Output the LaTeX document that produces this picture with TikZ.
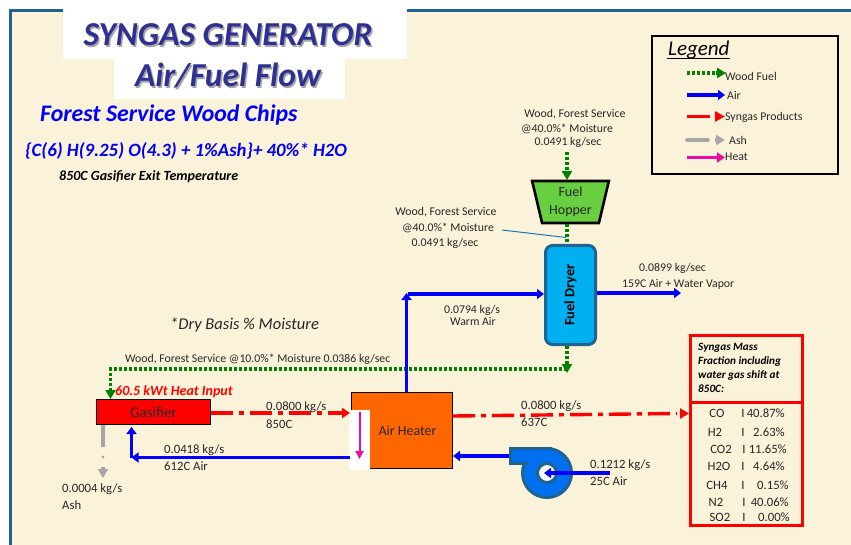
\documentclass[tikz,border=0pt]{standalone}
\usepackage{fontspec}
\setmainfont{Carlito}
\usetikzlibrary{arrows.meta, shapes.geometric}
\definecolor{paper}{HTML}{FBF3D9}
\definecolor{framecol}{HTML}{1F6391}
\definecolor{titlecol}{HTML}{2E3192}
\definecolor{woodcol}{HTML}{008000}
\definecolor{aircol}{HTML}{0000FF}
\definecolor{ashcol}{HTML}{A6A6A6}
\definecolor{heatcol}{HTML}{EC0CA0}
\definecolor{hoppercol}{HTML}{68D040}
\definecolor{dryercol}{HTML}{00B0F0}
\definecolor{heatercol}{HTML}{FF6600}
\definecolor{fancol}{HTML}{0070F0}
\definecolor{leadercol}{HTML}{1478BE}
\begin{document}
\begin{tikzpicture}[x = 1pt, y = -1pt]
\tikzstyle{label}=[inner sep = 0pt, anchor = west, font = \fontsize{11.8}{13}\selectfont, text = black!85]
\tikzstyle{bigger}=[label, font = \fontsize{12.7}{14}\selectfont]
\tikzstyle{centered}=[label, anchor = center, align = center]
\tikzstyle{title}=[inner sep = 0pt, font = \fontsize{33.5}{38}\bfseries\itshape\selectfont, text = titlecol]
\tikzstyle{titleshade}=[title, text = black!35]
\tikzstyle{bluetitle}=[inner sep = 0pt, anchor = west, text = aircol, font = \bfseries\itshape\selectfont]
\tikzstyle{unit}=[draw = black, line width = 1.5pt, inner sep = 0pt, font = \fontsize{14}{16}\selectfont, text = black!85]
\tikzstyle{woodflow}=[woodcol, line width = 3.2pt, dash pattern = on 3pt off 2pt]
\tikzstyle{woodtip}=[woodcol, line width = 3.2pt, -{Triangle[length = 9pt, width = 10pt]}]
\tikzstyle{airflow}=[aircol, line width = 3.4pt, -{Triangle[length = 7pt, width = 10pt]}]
\tikzstyle{gasflow}=[red, line width = 3.4pt, dash pattern = on 22pt off 6pt on 5pt off 6pt]
\tikzstyle{gastip}=[red, line width = 3.4pt, -{Triangle[length = 8pt, width = 10pt]}]
\tikzstyle{ashflow}=[ashcol, line width = 3.6pt]
\tikzstyle{ashtip}=[ashcol, line width = 3.6pt, -{Triangle[length = 9pt, width = 10pt]}]
\tikzstyle{heatflow}=[heatcol, line width = 3pt, -{Triangle[length = 8pt, width = 10pt]}]
\useasboundingbox (0, 0) rectangle (851, 545);
\fill[white] (0, 0) rectangle (851, 545);
\fill[paper] (10, 10) rectangle (851, 545);
\draw[framecol, line width = 3pt] (10.5, 545) -- (10.5, 10.5) -- (851, 10.5);
\fill[white] (63, 0) rectangle (407, 59);
\fill[white] (114, 59) rectangle (345, 99);
\node[titleshade] (shadeone) at (229.5, 36.5) {SYNGAS GENERATOR};
\node[title] (titleone) at (228, 35) {SYNGAS GENERATOR};
\node[titleshade] (shadetwo) at (229.5, 77.5) {Air/Fuel Flow};
\node[title] (titletwo) at (228, 76) {Air/Fuel Flow};
\node[bluetitle, font = \fontsize{23.8}{26}\bfseries\itshape\selectfont] (chips) at (40, 115) {Forest Service Wood Chips};
\node[bluetitle, font = \fontsize{18.8}{21}\bfseries\itshape\selectfont] (formula) at (25, 151) {\{C(6) H(9.25) O(4.3) + 1\%Ash\}+ 40\%* H2O};
\node[label, font = \fontsize{14}{16}\bfseries\itshape\selectfont, text = black] (exit) at (59, 177) {850C Gasifier Exit Temperature};
\node[label, font = \fontsize{16.5}{19}\itshape\selectfont] (drybasis) at (170, 325) {*Dry Basis \% Moisture};
% legend
\node[draw = black, line width = 1.2pt, minimum width = 186pt, minimum height = 138pt, inner sep = 0pt] (legend) at (745, 105) {};
\node[label, font = \fontsize{21}{24}\itshape\selectfont, text = black] (legendname) at (668, 50) {Legend};
\draw[black, line width = 1pt] (667, 59) -- (730, 59);
\coordinate (lwa) at (687, 73);
\coordinate (lwb) at (716, 73);
\coordinate (lwc) at (726, 73);
\coordinate (laa) at (687, 95);
\coordinate (lab) at (725, 95);
\coordinate (lsa) at (687, 116.5);
\coordinate (lsb) at (710, 116.5);
\coordinate (lsc) at (715, 116.5);
\coordinate (lsd) at (725, 116.5);
\coordinate (lga) at (687, 140);
\coordinate (lgb) at (708, 140);
\coordinate (lgc) at (715, 140);
\coordinate (lgd) at (725, 140);
\coordinate (lha) at (687, 157.5);
\coordinate (lhb) at (725, 157.5);
\draw[woodflow] (lwa) -- (lwb);
\draw[woodtip] (lwb) -- (lwc);
\draw[airflow] (laa) -- (lab);
\draw[red, line width = 3.4pt] (lsa) -- (lsb);
\draw[gastip, -{Triangle[length = 10pt, width = 10pt]}] (lsc) -- (lsd);
\draw[ashflow, line cap = round] (lga) -- (lgb);
\draw[ashtip] (lgc) -- (lgd);
\draw[heatflow] (lha) -- (lhb);
\node[label] (lwood) at (725, 76) {Wood Fuel};
\node[label] (lair) at (727, 95) {Air};
\node[label] (lsyn) at (725, 117) {Syngas Products};
\node[label] (lash) at (729, 140) {Ash};
\node[label] (lheat) at (725, 157) {Heat};
% units
\node[unit, shape = trapezium, shape border rotate = 180, trapezium stretches = true, trapezium angle = 76, line width = 2.6pt, fill = hoppercol, minimum width = 77pt, minimum height = 42pt, align = center, font = \fontsize{14}{18}\selectfont] (hopper) at (570.5, 202) {Fuel\\Hopper};
\node[unit, draw = framecol, line width = 3pt, fill = dryercol, rounded corners = 7pt, minimum width = 99pt, minimum height = 50pt, rotate = 90, font = \fontsize{14.3}{16}\bfseries\selectfont, text = black] (dryer) at (570.5, 295) {Fuel Dryer};
\node[unit, fill = red, minimum width = 114pt, minimum height = 25pt, font = \fontsize{15}{17}\selectfont] (gasifier) at (153.5, 412) {Gasifier};
\node[unit, fill = heatercol, minimum width = 101pt, minimum height = 76pt] (heater) at (402, 430.5) {};
\node[inner sep = 0pt, font = \fontsize{14}{16}\selectfont, text = black!85] (heatername) at (407.5, 431) {Air Heater};
\fill[white] (349, 410) rectangle (370, 469.5);
\node[circle, draw = framecol, fill = fancol, line width = 3pt, minimum size = 49pt, inner sep = 0pt] (fan) at (547, 473) {};
\node[draw = framecol, fill = fancol, line width = 3pt, minimum width = 40pt, minimum height = 15pt, inner sep = 0pt] (outlet) at (530, 456) {};
\fill[fancol] (531, 450) rectangle (552, 462);
\fill[fancol] (547, 473) circle (21);
\node[circle, draw = framecol, fill = white, line width = 3pt, minimum size = 19pt, inner sep = 0pt] (fanhub) at (547, 473) {};
% wood flow
\coordinate (woodin) at (567, 152);
\coordinate (hoppertop) at (567, 180);
\coordinate (hopperout) at (567, 224);
\coordinate (dryerin) at (567, 244);
\coordinate (dryerout) at (567, 346);
\coordinate (dryerdrop) at (567, 365);
\coordinate (dryertip) at (567, 373);
\coordinate (returnright) at (567, 369);
\coordinate (returnleft) at (110.5, 369);
\coordinate (gasdrop) at (110.5, 390);
\coordinate (gastop) at (110.5, 399);
\draw[woodflow] (woodin) -- (567, 171);
\draw[woodtip] (567, 171) -- (hoppertop);
\draw[woodflow] (hopperout) -- (dryerin);
\draw[woodflow] (dryerout) -- (dryerdrop);
\draw[woodtip] (567, 364) -- (dryertip);
\draw[woodflow] (returnright) -- (returnleft) -- (gasdrop);
\draw[woodtip] (gasdrop) -- (gastop);
% air flow
\coordinate (heatertop) at (406.5, 392);
\coordinate (risetop) at (406.5, 293);
\coordinate (risecorner) at (408, 294);
\coordinate (dryerleft) at (544, 294);
\coordinate (dryerright) at (597, 293);
\coordinate (ventout) at (681, 293);
\coordinate (heaterleft) at (350, 457.5);
\coordinate (aircorner) at (131.5, 457.5);
\coordinate (gasbottom) at (131.5, 427);
\coordinate (outletend) at (509, 456);
\coordinate (heaterright) at (453, 456);
\coordinate (airin) at (610, 473);
\coordinate (airhub) at (544, 473);
\draw[airflow] (heatertop) -- (risetop);
\draw[airflow] (risecorner) -- (dryerleft);
\draw[airflow] (dryerright) -- (ventout);
\draw[airflow] (heaterleft) -- (aircorner);
\draw[airflow] (aircorner) -- (gasbottom);
\draw[airflow] (outletend) -- (heaterright);
\draw[airflow] (airin) -- (airhub);
% syngas flow
\coordinate (gasout) at (211, 413);
\coordinate (gasmid) at (340, 413);
\coordinate (gasend) at (350, 413);
\coordinate (heaterout) at (453, 416);
\coordinate (synmid) at (677, 413.5);
\coordinate (syntip) at (680, 413.5);
\coordinate (synend) at (689, 413.5);
\draw[gasflow] (gasout) -- (gasmid);
\draw[gastip] (gasmid) -- (gasend);
\draw[gasflow] (heaterout) -- (synmid);
\draw[gastip, -{Triangle[length = 9pt, width = 10pt]}] (syntip) -- (synend);
% ash and heat
\coordinate (ashtop) at (103, 425);
\coordinate (ashmid) at (103, 447);
\coordinate (ashdot) at (103, 457);
\coordinate (ashstem) at (103, 467);
\coordinate (ashend) at (103, 478);
\draw[ashflow] (ashtop) -- (ashmid);
\fill[ashcol] (ashdot) circle (1.7);
\draw[ashtip] (ashstem) -- (ashend);
\coordinate (heattop) at (359.5, 412);
\coordinate (heatend) at (359.5, 459);
\draw[heatflow, line width = 2pt, dash pattern = on 1.6pt off 0.4pt, -{Triangle[length = 8pt, width = 8pt]}] (heattop) -- (heatend);
% leader
\coordinate (leadera) at (502, 230);
\coordinate (leaderb) at (566, 237.5);
\draw[leadercol, line width = 1pt] (leadera) -- (leaderb);
% stream labels
\node[centered] (woodtop) at (575, 114) {Wood, Forest Service};
\node[centered] (woodtoptwo) at (567, 129) {@40.0\%* Moisture};
\node[centered] (woodtopthree) at (568, 142) {0.0491 kg/sec};
\node[centered] (woodmid) at (446, 212) {Wood, Forest Service};
\node[centered] (woodmidtwo) at (448, 228) {@40.0\%* Moisture};
\node[centered] (woodmidthree) at (445, 243) {0.0491 kg/sec};
\node[label] (vapor) at (639, 268) {0.0899 kg/sec};
\node[label] (vaportwo) at (622, 284) {159C Air + Water Vapor};
\node[centered] (warm) at (472, 310) {0.0794 kg/s};
\node[centered] (warmtwo) at (473, 321) {Warm Air};
\node[label] (dried) at (125, 359) {Wood, Forest Service @10.0\%* Moisture 0.0386 kg/sec};
\node[label, font = \fontsize{14}{16}\bfseries\itshape\selectfont, text = red] (heatinput) at (115, 392) {60.5 kWt Heat Input};
\node[bigger] (gasrate) at (266, 407) {0.0800 kg/s};
\node[bigger] (gastemp) at (266, 424) {850C};
\node[bigger] (synrate) at (521, 406) {0.0800 kg/s};
\node[bigger] (syntemp) at (521, 422) {637C};
\node[bigger] (airrate) at (164, 450) {0.0418 kg/s};
\node[bigger] (airtemp) at (164, 466) {612C Air};
\node[bigger] (ashrate) at (62, 489) {0.0004 kg/s};
\node[bigger] (ashname) at (62, 505) {Ash};
\node[bigger] (fanrate) at (590, 465) {0.1212 kg/s};
\node[bigger] (fantemp) at (590, 481) {25C Air};
% syngas table
\node[draw = red, line width = 3pt, minimum width = 112pt, minimum height = 190pt, inner sep = 0pt] (syntable) at (746.5, 430.5) {};
\draw[red, line width = 3pt] (syntable.west |- 0, 402) -- (syntable.east |- 0, 402);
\node[label, font = \fontsize{11.2}{14}\bfseries\itshape\selectfont, align = left, text = black] (synhead) at (698, 368) {Syngas Mass\\Fraction including\\water gas shift  at\\850C:};
\foreach \gasname/\namex/\barx/\valx/\rowy/\gasval in {CO/717/743/785/413/40.87\%, H2/715/743/785/432/2.63\%, CO2/721/744/787/449/11.65\%, H2O/719/743/785/466/4.64\%, CH4/717/743/789/485/0.15\%, N2/716/744/789/502/40.06\%, SO2/720/744/790/517/0.00\%}
{
\node[bigger, anchor = center] (name\gasname) at (\namex, \rowy) {\gasname};
\node[bigger, anchor = center] (bar\gasname) at (\barx, \rowy) {I};
\node[bigger, anchor = east] (val\gasname) at (\valx, \rowy) {\gasval};
}
\end{tikzpicture}
\end{document}
